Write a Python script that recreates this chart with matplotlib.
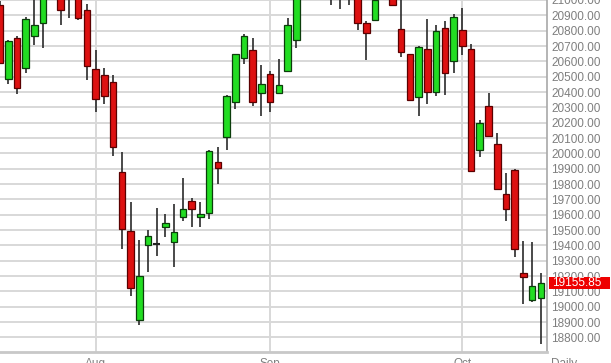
import numpy as np
import matplotlib
matplotlib.use("Agg")
import matplotlib.pyplot as plt
from matplotlib.patches import Rectangle
from matplotlib.transforms import blended_transform_factory


# daily candles, oldest first (values above ~20986 are off the top of the view)
opens = [20970, 20487, 20753, 20558, 20764, 20848, 21040, 21030, 21010, 21010,
         20934, 20552, 20509, 20468, 19880, 19494, 18912, 19405, 19409, 19520,
         19420, 19582, 19688, 19584, 19610, 19945, 20105, 20332, 20623, 20673,
         20394, 20520, 20394, 20539, 20742, 21010, 21080, 21040, 21090, 21010,
         21070, 21030, 20850, 20868, 21010, 21050, 20813, 20645, 20366, 20680,
         20403, 20820, 20602, 20807, 20680, 20025, 20312, 20064, 19733, 19889,
         19221, 19046, 19059]
highs = [20995, 20740, 20766, 20889, 21010, 21050, 21120, 21050, 21060, 21030,
         20975, 20673, 20554, 20511, 20008, 19684, 19437, 19500, 19647, 19608,
         19672, 19841, 19711, 19684, 20020, 20040, 20380, 20650, 20779, 20753,
         20576, 20539, 20615, 20884, 21040, 21110, 21120, 21130, 21110, 21090,
         21100, 21060, 20861, 21030, 21090, 21080, 21010, 20651, 20698, 20874,
         20835, 20863, 20910, 20947, 20716, 20217, 20392, 20133, 19870, 19895,
         19431, 19420, 19219]
lows = [20584, 20450, 20388, 20521, 20706, 20690, 21010, 20835, 20884, 20871,
        20479, 20273, 20323, 19986, 19377, 19068, 18884, 19225, 19334, 19452,
        19262, 19560, 19522, 19522, 19572, 19802, 20019, 20291, 20580, 20310,
        20241, 20267, 20390, 20528, 20684, 21000, 21010, 21020, 20965, 20939,
        20965, 20803, 20612, 20861, 21000, 20960, 20630, 20342, 20245, 20323,
        20375, 20382, 20521, 20641, 19880, 19975, 20108, 19760, 19560, 19327,
        19016, 19031, 18755]
closes = [20591, 20733, 20424, 20878, 20835, 21020, 21090, 20932, 21040, 20884,
          20567, 20356, 20377, 20042, 19504, 19124, 19198, 19463, 19409, 19543,
          19487, 19640, 19638, 19604, 20014, 19906, 20375, 20645, 20766, 20332,
          20455, 20338, 20446, 20835, 21010, 21080, 21040, 21100, 21030, 21060,
          21020, 20850, 20785, 21000, 21060, 20965, 20662, 20345, 20695, 20403,
          20798, 20526, 20891, 20699, 19884, 20197, 20111, 19766, 19636, 19377,
          19193, 19137, 19155.85]

month_labels = ["Aug", "Sep", "Oct"]
month_index = [11, 31, 53]
price_ticks = list(range(18800, 21001, 100))
last_price = closes[-1]

UP_FILL, UP_EDGE = "#22dd22", "#0b3d0b"
DOWN_FILL, DOWN_EDGE = "#dd1111", "#5a0000"
GRID = "#d8d8d8"
TEXT = "#7f7f7f"
FONT = "Liberation Sans"


def draw_candles(ax, width=0.75):
    for i, (o, h, l, c) in enumerate(zip(opens, highs, lows, closes)):
        ax.vlines(i, l, h, color="#2a2a2a", lw=1.2, zorder=2)
        if o == c:
            ax.hlines(c, i - width / 2, i + width / 2, color="#222222", lw=1.5, zorder=3)
            continue
        up = c > o
        ax.add_patch(Rectangle((i - width / 2, min(o, c)), width, abs(c - o),
                               facecolor=UP_FILL if up else DOWN_FILL,
                               edgecolor=UP_EDGE if up else DOWN_EDGE,
                               lw=0.9, zorder=3))


fig = plt.figure(figsize=(6.11, 3.63), dpi=100)
ax = fig.add_axes([0, 11 / 363, 547 / 611, 352 / 363])

draw_candles(ax)

ax.set_xlim(0.05, 62.7)
ax.set_ylim(18705, 20986)

for p in price_ticks:
    ax.axhline(p, color=GRID, lw=1.4, zorder=1)
for m in month_index:
    ax.axvline(m, color=GRID, lw=1.4, zorder=1)

ax.yaxis.tick_right()
ax.set_yticks(price_ticks)
ax.set_yticklabels([f"{p:.2f}" for p in price_ticks], fontsize=8.5,
                   color=TEXT, family=FONT)
ax.tick_params(axis="y", length=0, pad=3)

ax.set_xticks(month_index)
ax.set_xticklabels(month_labels, fontsize=8.5, color=TEXT, family=FONT)
ax.tick_params(axis="x", length=0, pad=4)

for side in ["top", "left"]:
    ax.spines[side].set_visible(False)
ax.spines["bottom"].set_color("#c8c8c8")
ax.spines["bottom"].set_linewidth(2)
ax.spines["right"].set_color("#a8a8a8")
ax.spines["right"].set_linewidth(1.2)

# last price tag on the price axis
trans = blended_transform_factory(ax.transAxes, ax.transData)
ax.add_patch(Rectangle((1.003, last_price - 40), 0.113, 80, transform=trans,
                       facecolor="#ee0000", edgecolor="none", clip_on=False, zorder=5))
ax.text(1.009, last_price, f"{last_price:.2f}", transform=trans, va="center",
        ha="left", fontsize=8.5, color="white", family=FONT, clip_on=False,
        zorder=6)

fig.text(551 / 611, 5 / 363, "Daily", fontsize=8.5, color=TEXT, family=FONT,
         ha="left", va="top")

fig.savefig("out.png", dpi=100)
